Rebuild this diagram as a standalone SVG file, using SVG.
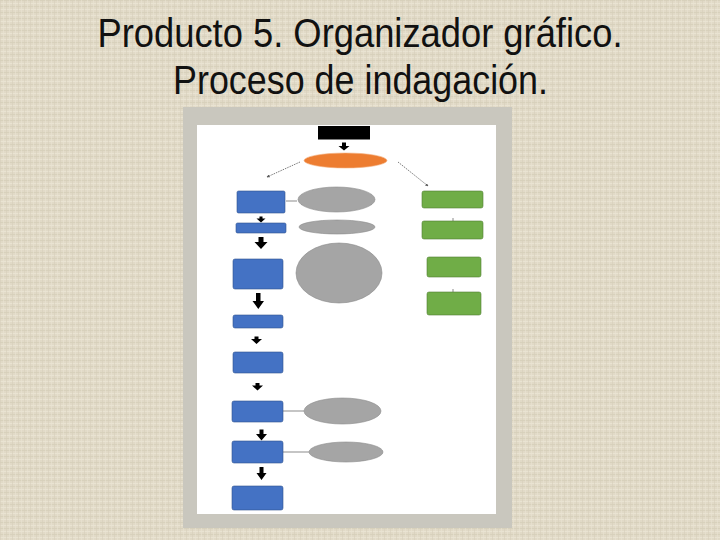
<svg xmlns="http://www.w3.org/2000/svg" width="720" height="540" viewBox="0 0 720 540">
  <defs>
    <pattern id="linen" width="6" height="6" patternUnits="userSpaceOnUse">
      <rect width="6" height="6" fill="#e1dac7"/>
      <rect x="0" y="0" width="6" height="1" fill="#d5cdb8" opacity="0.7"/>
      <rect x="0" y="3" width="6" height="1" fill="#ebe5d5" opacity="0.8"/>
      <rect x="0" y="0" width="1" height="6" fill="#d7cfba" opacity="0.6"/>
      <rect x="3" y="0" width="1" height="6" fill="#e9e3d2" opacity="0.6"/>
    </pattern>
    <marker id="tip" viewBox="0 0 6 6" refX="5" refY="3" markerWidth="4" markerHeight="4" orient="auto">
      <path d="M0,0 L6,3 L0,6 z" fill="#595959"/>
    </marker>
  </defs>
  <style>
    .title { font-family: "Liberation Sans", "Open Sans", sans-serif; font-size: 40px; fill: #111111; }
    .blue { fill: #4472c4; stroke: #2f528f; stroke-width: 0.6; }
    .green { fill: #70ad47; stroke: #507e32; stroke-width: 0.6; }
    .grey { fill: #a5a5a5; stroke: #8a8a8a; stroke-width: 0.6; }
    .orange { fill: #ed7d31; stroke: #f4b183; stroke-width: 0.6; }
    .dash { stroke: #595959; stroke-width: 0.8; stroke-dasharray: 1.5 1; fill: none; }
    .thin { stroke: #595959; stroke-width: 0.7; fill: none; }
    .blk { fill: #000000; }
  </style>

  <rect width="720" height="540" fill="url(#linen)"/>

  <g id="title">
    <text class="title" x="360" y="47" text-anchor="middle" textLength="525" lengthAdjust="spacingAndGlyphs">Producto 5. Organizador gráfico.</text>
    <text class="title" x="360.5" y="94" text-anchor="middle" textLength="375" lengthAdjust="spacingAndGlyphs">Proceso de indagación.</text>
  </g>

  <g id="frame">
    <rect x="183" y="107" width="329" height="421" fill="#c9c7be"/>
    <rect x="197" y="125" width="299" height="389" fill="#ffffff"/>
  </g>

  <g id="connectors">
    <line class="dash" x1="300" y1="162" x2="267" y2="177" marker-end="url(#tip)"/>
    <line class="dash" x1="398" y1="162" x2="428" y2="186" marker-end="url(#tip)"/>
    <line class="thin" x1="286" y1="201" x2="297" y2="201"/>
    <line class="thin" x1="283" y1="411" x2="304" y2="411"/>
    <line class="thin" x1="283" y1="452" x2="309" y2="452"/>
    <line class="thin" x1="453" y1="218" x2="453" y2="221"/>
    <line class="thin" x1="453" y1="289" x2="453" y2="292"/>
    <polygon class="blk" points="342,142.5 346,142.5 346,146 349.5,146 344,150.5 338.5,146 342,146"/>
    <polygon class="blk" points="259.5,216.5 262.5,216.5 262.5,218.5 265.5,218.5 261,222.5 256.5,218.5 259.5,218.5"/>
    <polygon class="blk" points="258.5,237 263.5,237 263.5,242 267.5,242 261,249 254.5,242 258.5,242"/>
    <polygon class="blk" points="256,293 260.5,293 260.5,301 264,301 258.3,309 252.5,301 256,301"/>
    <polygon class="blk" points="254.5,336.5 258.5,336.5 258.5,339 262,339 256.5,344 251,339 254.5,339"/>
    <polygon class="blk" points="255.5,383 259.5,383 259.5,385.5 263,385.5 257.5,390.5 252,385.5 255.5,385.5"/>
    <polygon class="blk" points="259.5,429.5 263.5,429.5 263.5,434 267,434 261.5,440.5 256,434 259.5,434"/>
    <polygon class="blk" points="259.5,467 263.5,467 263.5,473 266.5,473 261.5,480 256.5,473 259.5,473"/>
  </g>

  <g id="node-start">
    <rect x="318" y="126" width="52" height="13.5" fill="#000000"/>
  </g>
  <g id="node-orange">
    <ellipse class="orange" cx="345.5" cy="160.5" rx="41.5" ry="7.5"/>
  </g>

  <g id="node-blue-1"><rect class="blue" x="237" y="191" width="48" height="22" rx="1.5"/></g>
  <g id="node-blue-2"><rect class="blue" x="236" y="223" width="50" height="10" rx="1.5"/></g>
  <g id="node-blue-3"><rect class="blue" x="233" y="259" width="50" height="30" rx="2"/></g>
  <g id="node-blue-4"><rect class="blue" x="233" y="315" width="50" height="13" rx="2"/></g>
  <g id="node-blue-5"><rect class="blue" x="233" y="352" width="50" height="21" rx="2"/></g>
  <g id="node-blue-6"><rect class="blue" x="232" y="401" width="51" height="21" rx="2"/></g>
  <g id="node-blue-7"><rect class="blue" x="232" y="441" width="51" height="22" rx="2"/></g>
  <g id="node-blue-8"><rect class="blue" x="232" y="486" width="51" height="24" rx="2"/></g>

  <g id="node-grey-1"><ellipse class="grey" cx="336.5" cy="199.5" rx="38.5" ry="12.5"/></g>
  <g id="node-grey-2"><ellipse class="grey" cx="337" cy="227" rx="38" ry="7"/></g>
  <g id="node-grey-3"><ellipse class="grey" cx="339" cy="273" rx="43" ry="30"/></g>
  <g id="node-grey-4"><ellipse class="grey" cx="342.5" cy="411" rx="38.5" ry="13"/></g>
  <g id="node-grey-5"><ellipse class="grey" cx="346" cy="452" rx="37" ry="10"/></g>

  <g id="node-green-1"><rect class="green" x="422" y="191" width="61" height="17" rx="2"/></g>
  <g id="node-green-2"><rect class="green" x="422" y="221" width="61" height="18" rx="2"/></g>
  <g id="node-green-3"><rect class="green" x="427" y="257" width="54" height="20" rx="2"/></g>
  <g id="node-green-4"><rect class="green" x="427" y="292" width="54" height="23" rx="2"/></g>
</svg>
